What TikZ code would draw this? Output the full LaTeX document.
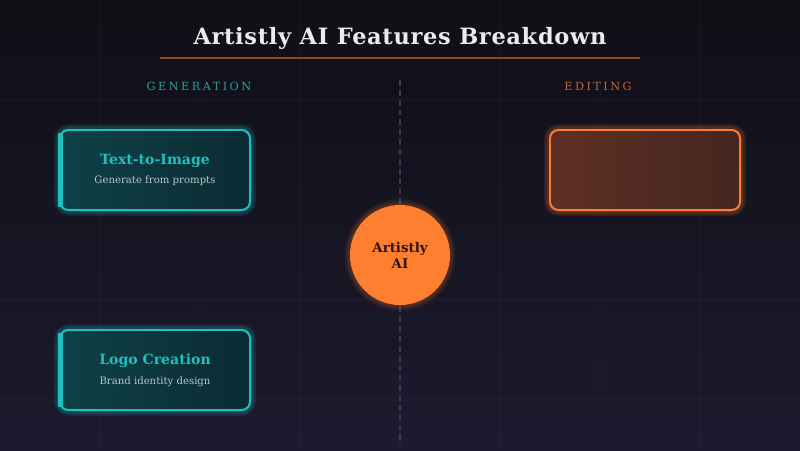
\documentclass[tikz,border=0pt]{standalone}
\usepackage{fontspec}
\setmainfont{DejaVu Serif}
\usetikzlibrary{positioning,backgrounds}

\definecolor{bgtop}{HTML}{100F16}
\definecolor{bgbot}{HTML}{1C1A2E}
\definecolor{genteal}{HTML}{1FC0C0}
\definecolor{genfill}{HTML}{0F4148}
\definecolor{genfilldark}{HTML}{0B2B33}
\definecolor{edorange}{HTML}{FF7A32}
\definecolor{edfill}{HTML}{5E3024}
\definecolor{edfilldark}{HTML}{45261F}
\definecolor{hubcol}{HTML}{FF7F30}
\definecolor{hubtext}{HTML}{2A140E}
\definecolor{titlecol}{HTML}{EEE8F0}
\definecolor{rulecol}{HTML}{8B4A2E}
\definecolor{gentext}{HTML}{2A9FA0}
\definecolor{edtext}{HTML}{C0663E}
\definecolor{subtext}{HTML}{B8C4C8}
\definecolor{dashcol}{HTML}{3A3A52}

\newcommand{\featurehead}[1]{{\bfseries\fontsize{10}{12}\selectfont\color{genteal}#1}}
\newcommand{\featuresub}[1]{{\fontsize{7.2}{9}\selectfont\color{subtext}#1}}

\begin{document}
\begin{tikzpicture}[x=0.025cm, y=-0.025cm]
	\tikzstyle{collabel} = [font = \fontsize{8}{10}\selectfont\addfontfeature{LetterSpace=22}]
	\tikzstyle{genbox} = [rectangle, rounded corners = 6pt, draw = genteal, line width = 1.4pt, left color = genfill, right color = genfilldark, minimum width = 4.75cm, minimum height = 2cm, align = center, inner sep = 0pt]
	\tikzstyle{edbox} = [genbox, draw = edorange, left color = edfill, right color = edfilldark]
	\tikzstyle{hub} = [circle, fill = hubcol, minimum size = 2.5cm, align = center, font = \bfseries\fontsize{9.5}{11.5}\selectfont, text = hubtext]
	% frame
	\useasboundingbox (0,0) rectangle (800,450);
	% title
	\node [font = \bfseries\fontsize{16}{19}\selectfont\addfontfeature{LetterSpace=3}, text = titlecol] (title) at (400,38) {Artistly AI Features Breakdown};
	\draw [rulecol, line width = 1.4pt] (160,58) -- (640,58);
	% columns
	\node [collabel, text = gentext] (genlabel) at (199,86) {GENERATION};
	\node [collabel, text = edtext] (edlabel) at (598,86) {EDITING};
	\coordinate (divtop) at (400,80);
	\coordinate (divbot) at (400,445);
	% features
	\node [genbox] (txtimg) at (155,170) {\featurehead{Text-to-Image}\\[2pt]\featuresub{Generate from prompts}};
	\node [genbox] (logo) at (155,370) {\featurehead{Logo Creation}\\[2pt]\featuresub{Brand identity design}};
	\node [edbox] (edit) at (645,170) {};
	\node [hub] (core) at (400,255) {Artistly\\AI};
	\draw [genteal, line width = 3pt] ([xshift = 1pt, yshift = -3pt]txtimg.north west) -- ([xshift = 1pt, yshift = 3pt]txtimg.south west);
	\draw [genteal, line width = 3pt] ([xshift = 1pt, yshift = -3pt]logo.north west) -- ([xshift = 1pt, yshift = 3pt]logo.south west);
	\begin{scope}[on background layer]
	  \fill [top color = bgtop, bottom color = bgbot] (0,0) rectangle (800,450);
	  \foreach \g in {100,200,...,700}
	    \draw [white, opacity = 0.02, line width = 1pt] (\g,0) -- (\g,450);
	  \foreach \g in {100,200,...,400}
	    \draw [white, opacity = 0.02, line width = 1pt] (0,\g) -- (800,\g);
	  \draw [dashcol, line width = 1pt, dash pattern = on 4.2pt off 2.8pt] (divtop) -- (divbot);
	  \foreach \w in {7,5,3}
	  {
	    \draw [genteal, opacity = 0.1, line width = \w pt, rounded corners = 7pt] (txtimg.north west) rectangle (txtimg.south east);
	    \draw [genteal, opacity = 0.1, line width = \w pt, rounded corners = 7pt] (logo.north west) rectangle (logo.south east);
	    \draw [edorange, opacity = 0.1, line width = \w pt, rounded corners = 7pt] (edit.north west) rectangle (edit.south east);
	  }
	  \foreach \r in {4,3,2,1}
	    \fill [hubcol, opacity = 0.07] (core.center) circle [radius = 1.25cm + \r pt];
	\end{scope}
\end{tikzpicture}
\end{document}
